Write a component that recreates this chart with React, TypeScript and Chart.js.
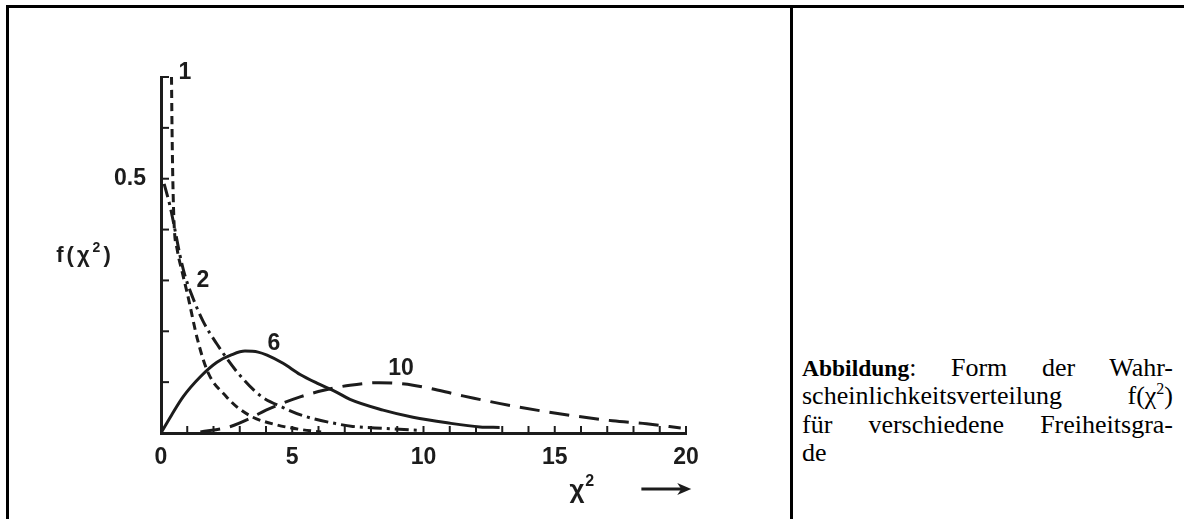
import React, { useEffect, useRef } from 'react';
import { Chart, registerables } from 'chart.js';

Chart.register(...registerables);

const INK = '#1c1c1c';

// Degrees of freedom (curve labels)
const dfLabels = ['1', '2', '6', '10'];

// df = 1 (short dashes)
const df1X = [0.40, 0.42, 0.45, 0.50, 0.62, 0.80, 1.0, 1.4, 1.8, 2.5, 2.9, 3.5, 4.4, 5.3, 6.1];
const df1Y = [0.70, 0.60, 0.50, 0.41, 0.36, 0.318, 0.275, 0.182, 0.118, 0.071, 0.051, 0.031, 0.016, 0.007, 0.002];

// df = 2 (dash-dot)
const df2X = [0.12, 0.34, 0.53, 0.72, 0.91, 1.22, 1.6, 2.13, 2.93, 3.77, 4.65, 5.41, 6.7, 7.3, 8.5, 9.9];
const df2Y = [0.49, 0.447, 0.40, 0.35, 0.31, 0.265, 0.22, 0.175, 0.118, 0.074, 0.05, 0.034, 0.018, 0.013, 0.009, 0.005];

// df = 6 (solid)
const df6X = [0, 0.4, 0.84, 1.49, 2.13, 2.7, 3.2, 3.7, 4.04, 4.65, 5.3, 5.94, 6.7, 7.2, 8.46, 9.6, 10.9, 12.15, 12.9];
const df6Y = [0, 0.035, 0.071, 0.11, 0.139, 0.154, 0.161, 0.159, 0.153, 0.137, 0.115, 0.098, 0.080, 0.066, 0.045, 0.031, 0.020, 0.012, 0.011];

// df = 10 (long dashes)
const df10X = [1.5, 2.6, 3.4, 4.0, 5.3, 6.2, 7.2, 8.3, 9.6, 11.5, 13.4, 15.3, 17.2, 18.5, 19.8];
const df10Y = [0.002, 0.012, 0.029, 0.045, 0.071, 0.084, 0.094, 0.099, 0.094, 0.073, 0.053, 0.037, 0.024, 0.018, 0.010];

// Tick labels
const xLabeledTicks = [0, 5, 10, 15, 20];
const yLabeledTicks = [0.5];

// Where the curve numbers sit (data coordinates)
const labelAnchorsX = [0.91, 1.6, 4.3, 9.14];
const labelAnchorsY = [0.708, 0.30, 0.176, 0.127];

// Axis titles: base text + superscript + closing text
const yTitleParts = ['f(χ', '2', ')'];
const xTitleParts = ['χ', '2', ''];

const pairs = (xs: number[], ys: number[]) => xs.map((x, i) => ({ x, y: ys[i] }));

function drawSupText(ctx: any, parts: string[], cx: number, cy: number, size: number, spacing: number) {
  const base = `bold ${size}px "Liberation Sans"`;
  const sup = `bold ${Math.round(size * 0.62)}px "Liberation Sans"`;
  ctx.textAlign = 'left';
  ctx.textBaseline = 'middle';
  const widths: number[] = [];
  const fonts = [base, sup, base];
  parts.forEach((p, i) => {
    ctx.font = fonts[i];
    let w = 0;
    for (const ch of p) w += ctx.measureText(ch).width + spacing;
    widths.push(w);
  });
  let x = cx - widths.reduce((a, b) => a + b, 0) / 2;
  parts.forEach((p, i) => {
    ctx.font = fonts[i];
    const dy = i === 1 ? -size * 0.38 : 0;
    for (const ch of p) {
      ctx.fillText(ch, x, cy + dy);
      x += ctx.measureText(ch).width + spacing;
    }
  });
}

const decorPlugin = {
  id: 'decor',
  afterDraw(chart: any) {
    const { ctx, chartArea } = chart;
    const xs = chart.scales.x;
    const ys = chart.scales.y;
    const x0 = xs.getPixelForValue(0);
    const y0 = ys.getPixelForValue(0);
    ctx.save();
    ctx.strokeStyle = INK;
    ctx.fillStyle = INK;
    ctx.lineWidth = 2;
    ctx.setLineDash([]);
    // inward tick marks
    xs.ticks.forEach((t: any) => {
      const px = xs.getPixelForValue(t.value);
      ctx.beginPath();
      ctx.moveTo(px, y0);
      ctx.lineTo(px, y0 - 7);
      ctx.stroke();
    });
    ys.ticks.forEach((t: any) => {
      const py = ys.getPixelForValue(t.value);
      ctx.beginPath();
      ctx.moveTo(x0, py);
      ctx.lineTo(x0 + 8, py);
      ctx.stroke();
    });
    // curve labels
    ctx.font = 'bold 23px "Liberation Sans"';
    ctx.textAlign = 'center';
    ctx.textBaseline = 'middle';
    dfLabels.forEach((s, i) => {
      ctx.fillText(s, xs.getPixelForValue(labelAnchorsX[i]), ys.getPixelForValue(labelAnchorsY[i]));
    });
    // y axis title (horizontal)
    drawSupText(ctx, yTitleParts, chartArea.left - 76, ys.getPixelForValue(0.348), 22, 3);
    // x axis title and arrow
    const ay = y0 + 56;
    drawSupText(ctx, xTitleParts, xs.getPixelForValue(16.05), ay + 2, 26, 1);
    const ax1 = xs.getPixelForValue(18.3);
    const ax2 = xs.getPixelForValue(20.2);
    ctx.lineWidth = 3;
    ctx.beginPath();
    ctx.moveTo(ax1, ay);
    ctx.lineTo(ax2 - 6, ay);
    ctx.stroke();
    ctx.beginPath();
    ctx.moveTo(ax2, ay);
    ctx.lineTo(ax2 - 14, ay - 6);
    ctx.lineTo(ax2 - 10, ay);
    ctx.lineTo(ax2 - 14, ay + 6);
    ctx.closePath();
    ctx.fill();
    ctx.restore();
  },
};

function ChiChart() {
  const ref = useRef<HTMLCanvasElement | null>(null);
  useEffect(() => {
    if (!ref.current) return;
    const common = {
      borderColor: INK,
      borderWidth: 3,
      pointRadius: 0,
      fill: false,
      cubicInterpolationMode: 'monotone' as const,
    };
    const chart = new Chart(ref.current, {
      type: 'line',
      data: {
        datasets: [
          { ...common, label: dfLabels[0], data: pairs(df1X, df1Y), borderDash: [8, 5] },
          { ...common, label: dfLabels[1], data: pairs(df2X, df2Y), borderDash: [14, 5, 3, 5] },
          { ...common, label: dfLabels[2], data: pairs(df6X, df6Y) },
          { ...common, label: dfLabels[3], data: pairs(df10X, df10Y), borderDash: [20, 10] },
        ],
      },
      options: {
        responsive: false,
        animation: false,
        events: [],
        layout: { padding: { top: 77, right: 104, left: 0, bottom: 0 } },
        plugins: { legend: { display: false }, tooltip: { enabled: false } },
        scales: {
          x: {
            type: 'linear',
            min: 0,
            max: 20,
            grid: { display: false, drawTicks: false },
            border: { display: true, color: INK, width: 3 },
            ticks: {
              stepSize: 1,
              autoSkip: false,
              maxRotation: 0,
              padding: 11,
              color: INK,
              font: { family: 'Liberation Sans', weight: 'bold', size: 23 },
              callback: (v: any) => (xLabeledTicks.includes(Number(v)) ? String(v) : ''),
            },
            afterFit: (s: any) => { s.height = 86; },
          },
          y: {
            type: 'linear',
            min: 0,
            max: 0.7,
            grid: { display: false, drawTicks: false },
            border: { display: true, color: INK, width: 3 },
            ticks: {
              stepSize: 0.1,
              autoSkip: false,
              padding: 15,
              color: INK,
              font: { family: 'Liberation Sans', weight: 'bold', size: 23 },
              callback: (v: any) =>
                yLabeledTicks.some((t) => Math.abs(t - Number(v)) < 1e-9) ? String(Math.round(Number(v) * 10) / 10) : '',
            },
            afterFit: (s: any) => { s.width = 161; },
          },
        },
      },
      plugins: [decorPlugin],
    });
    return () => chart.destroy();
  }, []);
  return (
    <canvas
      ref={ref}
      width={790}
      height={519}
      style={{ position: 'absolute', left: 0, top: 0, width: 790, height: 519 }}
    />
  );
}

const lineStyle: React.CSSProperties = {
  position: 'absolute',
  left: 802,
  width: 371,
  height: 28,
  lineHeight: '28px',
  fontFamily: '"Liberation Serif", "Times New Roman", serif',
  fontSize: 26,
  color: '#000',
  whiteSpace: 'nowrap',
};

const justified: React.CSSProperties = {
  ...lineStyle,
  textAlign: 'justify',
  textAlignLast: 'justify' as any,
  whiteSpace: 'normal',
};

export default function App() {
  return (
    <div style={{ position: 'absolute', left: 0, top: 0, width: 1184, height: 519, background: '#fff', overflow: 'hidden' }}>
      <ChiChart />
      <div style={{ position: 'absolute', left: 6, top: 5, width: 1178, height: 3, background: '#000' }} />
      <div style={{ position: 'absolute', left: 6, top: 5, width: 3, height: 514, background: '#000' }} />
      <div style={{ position: 'absolute', left: 790, top: 5, width: 3, height: 514, background: '#000' }} />
      <div style={{ ...justified, top: 354 }}>
        <b style={{ fontSize: 23.5 }}>Abbildung</b>: Form der Wahr-
      </div>
      <div style={{ ...justified, top: 382 }}>
        scheinlichkeitsverteilung f(χ<sup style={{ fontSize: 16, lineHeight: 0, verticalAlign: 'super' }}>2</sup>)
      </div>
      <div style={{ ...justified, top: 411 }}>für verschiedene Freiheitsgra-</div>
      <div style={{ ...lineStyle, top: 439 }}>de</div>
    </div>
  );
}
